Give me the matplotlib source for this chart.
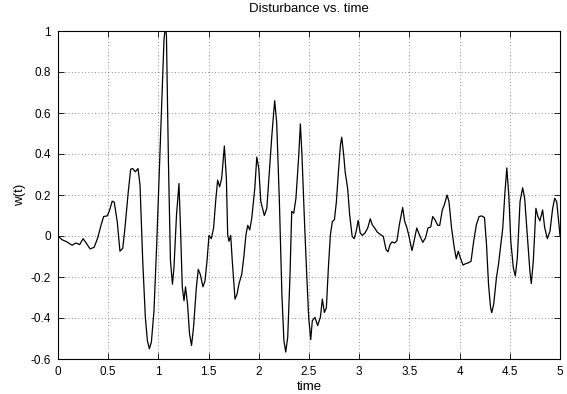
import matplotlib
matplotlib.use("Agg")
import matplotlib.pyplot as plt

time = [0.0, 0.04, 0.09, 0.14, 0.18, 0.216, 0.25, 0.28, 0.32, 0.36, 0.395, 0.43, 0.455, 0.49, 0.51, 0.54, 0.56, 0.59, 0.617,
        0.645, 0.667, 0.70, 0.724, 0.744, 0.77, 0.797, 0.817, 0.844, 0.87, 0.89, 0.91, 0.93, 0.956, 0.983, 1.009, 1.036,
        1.056, 1.069, 1.08, 1.10, 1.12, 1.14, 1.155, 1.18, 1.205, 1.22, 1.238, 1.255, 1.27,
        1.29, 1.31, 1.33, 1.35, 1.378, 1.397, 1.417, 1.444, 1.464, 1.484, 1.504, 1.527, 1.55, 1.57, 1.59, 1.61, 1.63,
        1.657, 1.677, 1.69, 1.703, 1.72, 1.736, 1.763, 1.783, 1.803, 1.83, 1.85, 1.872,
        1.89, 1.91, 1.93, 1.96, 1.98, 2.0, 2.02, 2.055, 2.08, 2.105, 2.13, 2.158, 2.178, 2.205, 2.23, 2.25, 2.268,
        2.288, 2.31, 2.328, 2.348, 2.37, 2.398, 2.414, 2.43, 2.455, 2.477, 2.497, 2.517,
        2.533, 2.56, 2.586, 2.613, 2.633, 2.653, 2.673, 2.693, 2.713, 2.733, 2.753, 2.773, 2.793, 2.813, 2.826, 2.846,
        2.86, 2.885, 2.905, 2.93, 2.95, 2.97, 2.99, 3.01, 3.03, 3.058, 3.085, 3.11, 3.13,
        3.154, 3.18, 3.214, 3.24, 3.267, 3.287, 3.307, 3.327, 3.353, 3.376, 3.4, 3.433, 3.453, 3.473, 3.493, 3.506,
        3.526, 3.546, 3.573, 3.6, 3.633, 3.66, 3.685, 3.712, 3.732, 3.755,
        3.782, 3.802, 3.828, 3.848, 3.875, 3.894, 3.92, 3.947, 3.967, 3.987, 4.007, 4.034, 4.06, 4.087, 4.114, 4.14,
        4.167, 4.194, 4.22, 4.248, 4.268, 4.288, 4.308, 4.32, 4.34, 4.367, 4.387,
        4.41, 4.43, 4.45, 4.47, 4.49, 4.51, 4.535, 4.555, 4.575, 4.602, 4.628, 4.648, 4.674, 4.7, 4.714, 4.734, 4.76,
        4.78, 4.8, 4.827, 4.847, 4.874, 4.9, 4.927, 4.947, 4.967, 4.987, 5.0]

w = [0.0, -0.018, -0.029, -0.045, -0.034, -0.042, -0.013, -0.034, -0.063, -0.055, -0.01, 0.055, 0.095, 0.098, 0.12,
     0.17, 0.165, 0.07, -0.074,
     -0.06, 0.04, 0.216, 0.326, 0.329, 0.313, 0.329, 0.248, -0.123, -0.397, -0.51, -0.55, -0.518, -0.365, -0.042,
     0.313, 0.684, 0.96, 1.02, 0.98, 0.36, -0.12, -0.235, -0.155, 0.10, 0.256, 0.04, -0.25, -0.316, -0.248,
     -0.332, -0.477, -0.534, -0.445, -0.252, -0.163, -0.187, -0.248, -0.219, -0.123, 0.003, -0.013, 0.04, 0.168,
     0.272, 0.24, 0.28, 0.439, 0.28, 0.006, -0.026, 0.003, -0.123, -0.308, -0.284, -0.232, -0.187, -0.106, 0.006,
     0.052, 0.03, 0.087, 0.232, 0.385, 0.329, 0.168, 0.10, 0.135, 0.313, 0.49, 0.66, 0.555, 0.168, -0.284, -0.51,
     -0.566, -0.494, -0.203, 0.12, 0.111, 0.184, 0.394, 0.547, 0.394, 0.071, -0.187, -0.397, -0.506,
     -0.413, -0.397, -0.437, -0.397, -0.308, -0.373, -0.35, -0.155, 0.006, 0.071, 0.079, 0.168, 0.313, 0.442,
     0.482, 0.394, 0.313, 0.232, 0.103, -0.002, -0.013, 0.023, 0.076, 0.015, 0.003, 0.015, 0.039, 0.084, 0.055,
     0.039, 0.019, 0.006, -0.002, -0.066, -0.077, -0.042, -0.029, -0.034, -0.023, 0.055, 0.139, 0.071, 0.044,
     0.006, -0.026, -0.071, -0.026, 0.039, 0.006, -0.031, -0.01, 0.039, 0.044, 0.095, 0.079,
     0.052, 0.052, 0.127, 0.152, 0.20, 0.168, 0.039, -0.058, -0.111, -0.074, -0.106, -0.142, -0.135, -0.131,
     -0.123, -0.026, 0.055, 0.095, 0.098, 0.09, -0.042, -0.235, -0.348, -0.374, -0.332, -0.203, -0.139,
     -0.042, 0.039, 0.20, 0.332, 0.20, -0.026, -0.155, -0.195, -0.106, 0.168, 0.235, 0.184, 0.006, -0.171,
     -0.232, -0.123, 0.135, 0.095, 0.074, 0.127, 0.042, -0.013, 0.023, 0.135, 0.184, 0.168, 0.071, 0.003]

xticks = [0, 0.5, 1, 1.5, 2, 2.5, 3, 3.5, 4, 4.5, 5]
xticklabels = ["0", "0.5", "1", "1.5", "2", "2.5", "3", "3.5", "4", "4.5", "5"]
yticks = [-0.6, -0.4, -0.2, 0, 0.2, 0.4, 0.6, 0.8, 1]
yticklabels = ["-0.6", "-0.4", "-0.2", "0", "0.2", "0.4", "0.6", "0.8", "1"]

plt.rcParams['font.family'] = ['Liberation Sans', 'DejaVu Sans']

fig = plt.figure(figsize=(5.67, 3.94), dpi=100)
ax = fig.add_axes([58/567, 1-359/394, (560-58)/567, (359-31)/394])
ax.plot(time, w, color='black', linewidth=0.9)
ax.set_xlim(0, 5)
ax.set_ylim(-0.6, 1)
ax.set_xticks(xticks)
ax.set_xticklabels(xticklabels)
ax.set_yticks(yticks)
ax.set_yticklabels(yticklabels)
ax.grid(True, color='#666666', linestyle=(0, (1, 3)), linewidth=0.6)
ax.tick_params(direction='in', top=True, right=True, labelsize=8.5, length=4, width=0.6, pad=5)
for s in ax.spines.values():
    s.set_linewidth(0.8)
ax.set_title("Disturbance vs. time", fontsize=9.5, pad=14)
ax.set_xlabel("time", fontsize=9.5, labelpad=2)
ax.set_ylabel("w(t)", fontsize=9.5, labelpad=3)
fig.savefig("out.png", dpi=100)
